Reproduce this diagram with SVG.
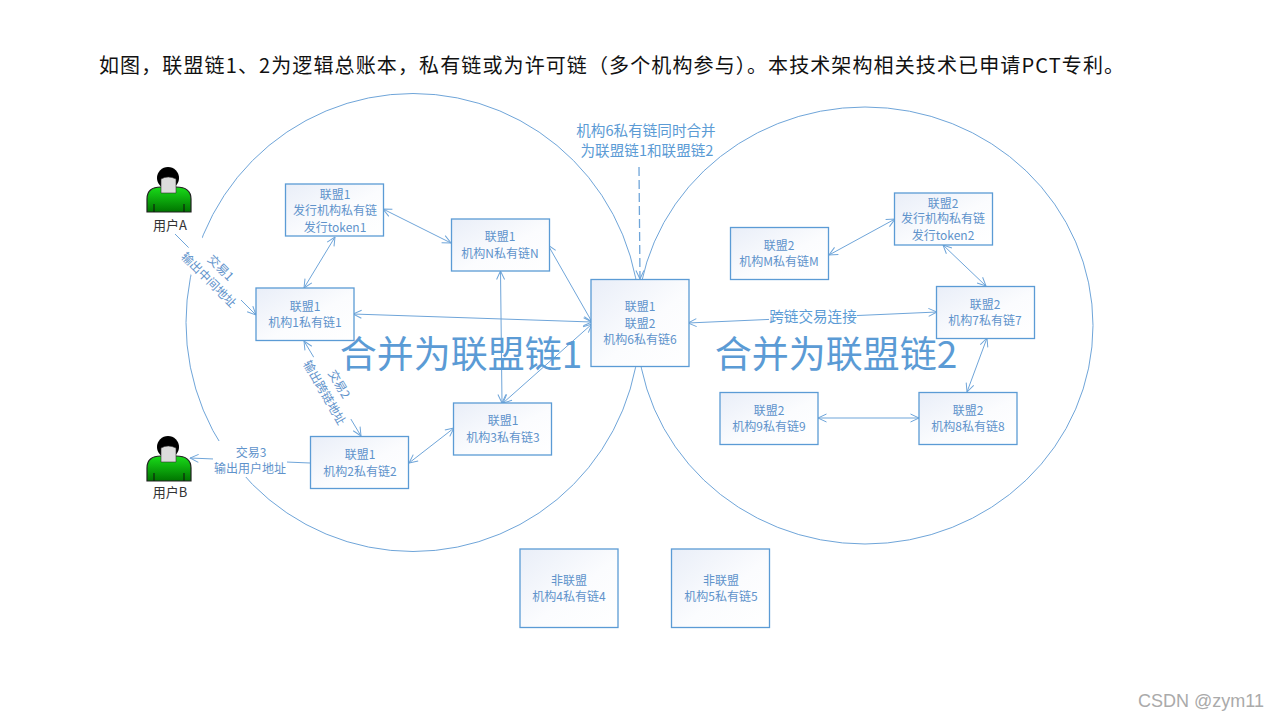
<svg xmlns="http://www.w3.org/2000/svg" width="1280" height="720" viewBox="0 0 1280 720">
<style>
text{font-family:"Noto Sans CJK SC","Noto Sans",sans-serif;text-anchor:middle}
.n{fill:url(#g);stroke:#5b9bd5;stroke-width:1.3}
.t{font-size:12px;fill:#5f93cb}
.h{font-size:14.6px;fill:#5b9bd5}
.l{fill:none;stroke:#6fa5d9;stroke-width:1}
.a{marker-end:url(#m)}
.b{marker-start:url(#s);marker-end:url(#m)}
.big{font-size:37px;fill:#5b9bd5}
.u{font-size:13px;fill:#333}
.w{fill:#fff}
</style>
<defs>
<linearGradient id="g" x1="0" y1="0" x2="1" y2="1"><stop offset="0" stop-color="#e9eef8"/><stop offset=".55" stop-color="#fbfcfe"/><stop offset="1" stop-color="#fff"/></linearGradient>
<linearGradient id="gr" x1="0" y1="0" x2="0" y2="1"><stop offset="0" stop-color="#19dc19"/><stop offset="1" stop-color="#007400"/></linearGradient>
<marker id="m" viewBox="0 0 10 10" refX="9.5" refY="5" markerWidth="10" markerHeight="10" orient="auto" markerUnits="userSpaceOnUse"><path d="M1 1L9.500 5L1 9" fill="none" stroke="#6fa5d9" stroke-width="1"/></marker>
<marker id="s" viewBox="0 0 10 10" refX=".5" refY="5" markerWidth="10" markerHeight="10" orient="auto" markerUnits="userSpaceOnUse"><path d="M9 1L.5 5L9 9" fill="none" stroke="#6fa5d9" stroke-width="1"/></marker>
<g id="person">
<circle cx="-1" cy="-12" r="11" fill="#000"/>
<path d="M-22 22V9Q-22 -3 -8 -3H7Q22 -3 22 9V22Z" fill="url(#gr)" stroke="#222" stroke-width="1.2"/>
<path d="M-15 22V14M15 22V14" stroke="#111" stroke-width="1"/>
<path d="M-8 -11Q-1 -15 7 -11V3H-8Z" fill="#dcdcdc" stroke="#333" stroke-width=".6"/>
</g>
</defs>
<rect width="1280" height="720" fill="#fff"/>
<text x="99" y="72.500" font-size="20" fill="#111" style="text-anchor:start" textLength="1025" lengthAdjust="spacing">如图，联盟链1、2为逻辑总账本，私有链或为许可链（多个机构参与）。本技术架构相关技术已申请PCT专利。</text>
<g id="connectors">
<ellipse class="l" cx="413" cy="322.500" rx="227" ry="229"/>
<ellipse class="l" cx="865" cy="325.500" rx="228" ry="218.500"/>
<line class="a" x1="639" y1="167" x2="640" y2="279" stroke="#6fa5d9" stroke-width="1.3" stroke-dasharray="9 4"/>
<line class="l a" x1="175" y1="234" x2="256" y2="315"/>
<line class="l b" x1="335" y1="237" x2="304" y2="288"/>
<line class="l b" x1="383" y1="209" x2="451" y2="243"/>
<line class="l b" x1="353" y1="314" x2="592" y2="322"/>
<line class="l b" x1="548" y1="245" x2="592" y2="322"/>
<line class="l b" x1="500.500" y1="271" x2="502" y2="403"/>
<line class="l b" x1="592" y1="324" x2="503" y2="403"/>
<line class="l b" x1="304" y1="341" x2="361" y2="436"/>
<line class="l b" x1="409" y1="463" x2="454" y2="428"/>
<line class="l a" x1="310" y1="463" x2="190" y2="458"/>
<line class="l b" x1="688" y1="323" x2="937" y2="312"/>
<line class="l b" x1="829" y1="255" x2="895" y2="219"/>
<line class="l b" x1="943" y1="245" x2="986" y2="286"/>
<line class="l b" x1="987" y1="338" x2="967" y2="392"/>
<line class="l b" x1="818" y1="418" x2="919" y2="418"/>
</g>
<g id="labels">
<g transform="translate(214.500 274) rotate(45)"><rect class="w" x="-37" y="-17" width="74" height="34"/><text class="t" y="-4.500">交易1</text><text class="t" y="12.500">输出中间地址</text></g>
<g transform="translate(331.500 388.500) rotate(60)"><rect class="w" x="-36" y="-17" width="72" height="34"/><text class="t" y="-4.500">交易2</text><text class="t" y="12.500">输出跨链地址</text></g>
<rect class="w" x="213" y="441" width="74" height="36"/>
<text class="t" x="251" y="456.500">交易3</text><text class="t" x="250" y="472.500">输出用户地址</text>
<rect class="w" x="769" y="309" width="88" height="17"/>
<text class="h" x="813" y="322">跨链交易连接</text>
<text class="h" x="646" y="136">机构6私有链同时合并</text>
<text class="h" x="647" y="156">为联盟链1和联盟链2</text>
<text class="big" x="461" y="368">合并为联盟链1</text>
<text class="big" x="836" y="368">合并为联盟链2</text>
<text x="1201" y="707" font-size="18" fill="#aaa" style="font-family:'Liberation Sans',sans-serif">CSDN @zym11</text>
</g>
<g id="userA"><use href="#person" x="169" y="190"/><text class="u" x="170" y="230">用户A</text></g>
<g id="userB"><use href="#person" x="169" y="459"/><text class="u" x="170" y="497">用户B</text></g>
<g id="n1"><rect class="n" x="285.500" y="184" width="98" height="52"/><text class="t" x="335" y="198.500">联盟1</text><text class="t" x="335" y="215">发行机构私有链</text><text class="t" x="335" y="232">发行token1</text></g>
<g id="nN"><rect class="n" x="451.500" y="219" width="98" height="52"/><text class="t" x="500" y="241">联盟1</text><text class="t" x="500" y="258">机构N私有链N</text></g>
<g id="m1"><rect class="n" x="256" y="288" width="98" height="52.500"/><text class="t" x="305" y="311">联盟1</text><text class="t" x="305" y="327">机构1私有链1</text></g>
<g id="m6"><rect class="n" x="591" y="279.500" width="98" height="87"/><text class="t" x="640" y="311">联盟1</text><text class="t" x="640" y="328">联盟2</text><text class="t" x="640" y="344">机构6私有链6</text></g>
<g id="m3"><rect class="n" x="453.500" y="403" width="98" height="52"/><text class="t" x="503" y="425">联盟1</text><text class="t" x="503" y="442">机构3私有链3</text></g>
<g id="m2"><rect class="n" x="310.500" y="436.500" width="98" height="52"/><text class="t" x="360" y="459">联盟1</text><text class="t" x="360" y="476">机构2私有链2</text></g>
<g id="m4"><rect class="n" x="520" y="549" width="98" height="78.500"/><text class="t" x="569" y="585">非联盟</text><text class="t" x="569" y="601">机构4私有链4</text></g>
<g id="m5"><rect class="n" x="671.500" y="549" width="98" height="78.500"/><text class="t" x="721" y="585">非联盟</text><text class="t" x="721" y="601">机构5私有链5</text></g>
<g id="n2"><rect class="n" x="894.500" y="193" width="98" height="52"/><text class="t" x="943" y="207.500">联盟2</text><text class="t" x="943" y="223">发行机构私有链</text><text class="t" x="943" y="240">发行token2</text></g>
<g id="mM"><rect class="n" x="730.500" y="227.500" width="98" height="52"/><text class="t" x="779" y="250">联盟2</text><text class="t" x="779" y="266">机构M私有链M</text></g>
<g id="m7"><rect class="n" x="936.500" y="286.500" width="98" height="52"/><text class="t" x="985" y="309">联盟2</text><text class="t" x="985" y="325">机构7私有链7</text></g>
<g id="m8"><rect class="n" x="919" y="392.500" width="98" height="52"/><text class="t" x="968" y="415">联盟2</text><text class="t" x="968" y="431">机构8私有链8</text></g>
<g id="m9"><rect class="n" x="720" y="392.500" width="98" height="52"/><text class="t" x="769" y="415">联盟2</text><text class="t" x="769" y="431">机构9私有链9</text></g>
</svg>
